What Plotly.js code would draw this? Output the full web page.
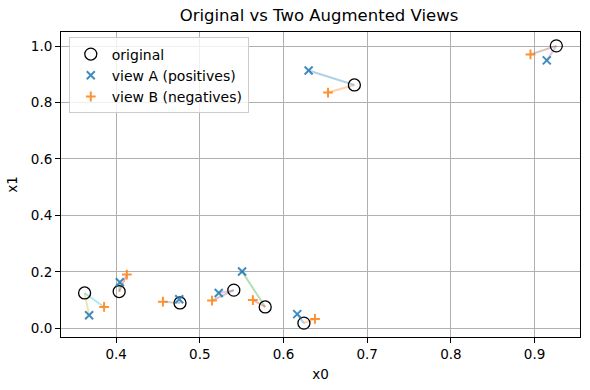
<!DOCTYPE html>
<html>
<head>
<meta charset="utf-8">
<script src="https://cdn.plot.ly/plotly-3.0.1.min.js"></script>
<style>html,body{margin:0;padding:0;background:#fff;}#chart{width:590px;height:390px;}</style>
</head>
<body>
<div id="chart"></div>
<script>
// Data
const origX = [0.6847, 0.5781, 0.9260, 0.4763, 0.3623, 0.6244, 0.4036, 0.5406];
const origY = [0.8620, 0.0755, 1.0005, 0.0897, 0.1250, 0.0181, 0.1300, 0.1350];
const viewAX = [0.6300, 0.5505, 0.9146, 0.4754, 0.3677, 0.6164, 0.4044, 0.5226];
const viewAY = [0.9130, 0.2010, 0.9490, 0.1030, 0.0460, 0.0500, 0.1630, 0.1250];
const viewBX = [0.6532, 0.5634, 0.8951, 0.4559, 0.3856, 0.6376, 0.4128, 0.5146];
const viewBY = [0.8350, 0.1000, 0.9700, 0.0940, 0.0755, 0.0330, 0.1900, 0.0980];
const xTicks = [0.4, 0.5, 0.6, 0.7, 0.8, 0.9];
const yTicks = [0.0, 0.2, 0.4, 0.6, 0.8, 1.0];

const cycle = ['#1f77b4','#ff7f0e','#2ca02c','#d62728','#9467bd','#8c564b','#e377c2','#7f7f7f','#bcbd22','#17becf'];

const traces = [];
let k = 0;
for (let i = 0; i < origX.length; i++) {
  const ends = [[viewAX[i], viewAY[i]], [viewBX[i], viewBY[i]]];
  for (const e of ends) {
    traces.push({
      type: 'scatter', mode: 'lines',
      x: [origX[i], e[0]], y: [origY[i], e[1]],
      line: {color: cycle[k % cycle.length], width: 2},
      opacity: 0.35, showlegend: false, hoverinfo: 'skip'
    });
    k++;
  }
}
traces.push({
  type: 'scatter', mode: 'markers', name: 'original',
  x: origX, y: origY,
  marker: {symbol: 'circle-open', size: 12, color: '#000000', line: {width: 1.3, color: '#000000'}}
});
traces.push({
  type: 'scatter', mode: 'markers', name: 'view A (positives)',
  x: viewAX, y: viewAY,
  marker: {symbol: 'x-thin-open', size: 8, color: 'rgba(31,119,180,0.85)', line: {width: 2, color: 'rgba(31,119,180,0.85)'}}
});
traces.push({
  type: 'scatter', mode: 'markers', name: 'view B (negatives)',
  x: viewBX, y: viewBY,
  marker: {symbol: 'cross-thin-open', size: 7, color: 'rgba(255,127,14,0.85)', line: {width: 2, color: 'rgba(255,127,14,0.85)'}}
});

const font = {family: 'DejaVu Sans', size: 13.5, color: '#000'};
const legendFont = {family: 'DejaVu Sans', size: 14, color: '#000'};
const axisBase = {
  showline: true, linecolor: '#000', linewidth: 1, mirror: true,
  ticks: 'outside', ticklen: 5, tickwidth: 1, tickcolor: '#000',
  showgrid: true, gridcolor: '#b0b0b0', gridwidth: 1,
  zeroline: false, tickformat: '.1f', tickfont: font
};
const layout = {
  width: 590, height: 390,
  margin: {l: 61, r: 10, t: 32, b: 53},
  paper_bgcolor: '#fff', plot_bgcolor: '#fff',
  font: font,
  title: {text: 'Original vs Two Augmented Views', font: {family: 'DejaVu Sans', size: 16.5, color: '#000'},
          x: 0.5407, xanchor: 'center', yref: 'container', y: 0.962, yanchor: 'middle'},
  xaxis: Object.assign({}, axisBase, {range: [0.3341, 0.9543], tickvals: xTicks,
          title: {text: 'x0', font: font, standoff: 8}}),
  yaxis: Object.assign({}, axisBase, {range: [-0.031, 1.0496], tickvals: yTicks,
          title: {text: 'x1', font: font, standoff: 10}}),
  legend: {x: 0.015, y: 0.982, xanchor: 'left', yanchor: 'top',
           bgcolor: 'rgba(255,255,255,0.8)', bordercolor: '#cccccc', borderwidth: 1,
           font: legendFont, itemwidth: 32},
  showlegend: true
};
Plotly.newPlot('chart', traces, layout, {displayModeBar: false, staticPlot: true});
</script>
</body>
</html>
